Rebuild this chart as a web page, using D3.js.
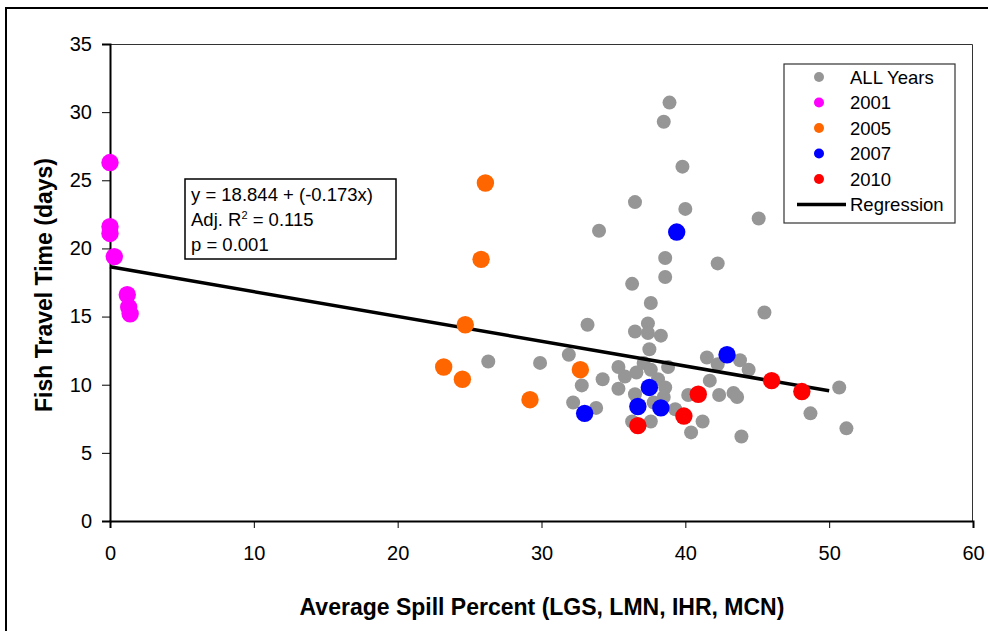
<!DOCTYPE html>
<html>
<head>
<meta charset="utf-8">
<script src="https://cdn.jsdelivr.net/npm/d3@7"></script>
<style>
	body { margin: 0; background: #fff; }
	text { font-family: Arial, "Liberation Sans", sans-serif; }
</style>
</head>
<body>
<div id="chart"></div>
<script>
// ALL Years (grey)
var allX = [38.9, 38.5, 39.8, 36.5, 40.0, 34.0, 45.1, 38.6, 42.25, 38.6, 36.3, 37.6, 45.5, 33.2,
	37.4, 36.5, 37.4, 38.3, 37.5, 31.9, 26.3, 29.9, 41.5, 42.25, 43.8, 44.4, 35.35, 35.8, 36.6,
	37.1, 37.6, 38.1, 38.8, 34.25, 32.8, 35.35, 36.5, 38.6, 38.5, 37.8, 39.3, 33.8, 32.2, 36.3,
	37.6, 40.2, 41.7, 42.35, 43.35, 43.6, 41.2, 40.4, 43.9, 48.7, 50.7, 51.2];
var allY = [30.7, 29.3, 26.0, 23.4, 22.9, 21.3, 22.2, 19.3, 18.9, 17.9, 17.4, 16.0, 15.3, 14.4,
	14.5, 13.9, 13.8, 13.6, 12.6, 12.2, 11.7, 11.6, 12.0, 11.5, 11.8, 11.1, 11.3, 10.6, 10.9,
	11.6, 11.1, 10.4, 11.3, 10.4, 9.95, 9.7, 9.3, 9.8, 9.1, 8.7, 8.2, 8.3, 8.7, 7.3,
	7.3, 9.25, 10.3, 9.25, 9.4, 9.1, 7.3, 6.5, 6.2, 7.9, 9.8, 6.8];

var x2001 = [0, 0, 0, 0.3, 1.2, 1.3, 1.4];
var y2001 = [26.3, 21.6, 21.1, 19.4, 16.6, 15.7, 15.2];

var x2005 = [26.1, 25.8, 24.7, 23.2, 24.5, 32.7, 29.2];
var y2005 = [24.8, 19.2, 14.4, 11.3, 10.4, 11.1, 8.9];

var x2007 = [39.4, 42.9, 37.5, 36.7, 38.3, 33.0];
var y2007 = [21.2, 12.2, 9.8, 8.4, 8.3, 7.9];

var x2010 = [36.7, 39.9, 40.9, 46.0, 48.1];
var y2010 = [7.0, 7.7, 9.3, 10.3, 9.5];

// regression line ends, as drawn
var regX = [0, 50];
var regY = [18.65, 9.55];

var xTicks = [0, 10, 20, 30, 40, 50, 60];
var yTicks = [0, 5, 10, 15, 20, 25, 30, 35];

var statLines = ["y = 18.844 + (-0.173x)", "Adj. R\u00B2 = 0.115", "p = 0.001"];
var legendNames = ["ALL Years", "2001", "2005", "2007", "2010", "Regression"];
var legendColors = ["#969696", "#ff00ff", "#ff6600", "#0000ff", "#ff0000", "#000"];

var svg = d3.select("#chart")
	.append("svg")
	.attr("width", 988)
	.attr("height", 631)
;

// outer frame (runs past the right and bottom edges)
svg.append("rect")
	.attr("x", 6).attr("y", 8)
	.attr("width", 1000).attr("height", 700)
	.attr("fill", "none")
	.attr("stroke", "#000")
	.attr("stroke-width", 2)
;

var margin = {top: 44, left: 110};
var width = 973 - margin.left;
var height = 521 - margin.top;

var x = d3.scaleLinear().domain([0, 60]).range([0, width]);
var y = d3.scaleLinear().domain([0, 35]).range([height, 0]);

var g = svg.append("g")
	.attr("transform", "translate(" + margin.left + "," + margin.top + ")");

// top / right border of the plot area
g.append("path")
	.attr("d", "M0,0.5H" + (width - 0.5) + "V" + height)
	.attr("fill", "none")
	.attr("stroke", "#333")
	.attr("stroke-width", 1)
;

var tickFont = (a) => a.selectAll("text")
	.attr("font-size", 20)
	.attr("fill", "#000")
	.attr("font-family", "Arial, 'Liberation Sans', sans-serif");

g.append("g")
	.attr("transform", "translate(0," + height + ")")
	.call(d3.axisBottom(x).tickValues(xTicks).tickSize(7).tickPadding(18))
	.call((a) => a.select(".domain").attr("stroke-width", 2))
	.call(tickFont)
;

g.append("g")
	.call(d3.axisLeft(y).tickValues(yTicks).tickSize(8).tickPadding(10))
	.call((a) => a.select(".domain").attr("stroke-width", 2))
	.call(tickFont)
;

// axis titles
svg.append("text")
	.attr("x", 542).attr("y", 615)
	.attr("text-anchor", "middle")
	.attr("font-size", 23)
	.attr("font-weight", "bold")
	.text("Average Spill Percent (LGS, LMN, IHR, MCN)")
;

svg.append("text")
	.attr("transform", "translate(52,285)rotate(-90)")
	.attr("text-anchor", "middle")
	.attr("font-size", 23)
	.attr("font-weight", "bold")
	.text("Fish Travel Time (days)")
;

function dots(xs, ys, color, r) {
	g.append("g").selectAll("circle")
		.data(xs)
		.enter().append("circle")
		.attr("cx", (d) => x(d))
		.attr("cy", (d, i) => y(ys[i]))
		.attr("r", r)
		.attr("fill", color)
	;
}

dots(allX, allY, legendColors[0], 7);
dots(x2001, y2001, legendColors[1], 8.7);

// regression
g.append("line")
	.attr("x1", x(regX[0])).attr("y1", y(regY[0]))
	.attr("x2", x(regX[1])).attr("y2", y(regY[1]))
	.attr("stroke", "#000")
	.attr("stroke-width", 3.5)
;

dots(x2005, y2005, legendColors[2], 8.7);
dots(x2007, y2007, legendColors[3], 8.7);
dots(x2010, y2010, legendColors[4], 8.7);

// stats box
svg.append("rect")
	.attr("x", 185).attr("y", 179)
	.attr("width", 211).attr("height", 80)
	.attr("fill", "#fff")
	.attr("stroke", "#000")
	.attr("stroke-width", 1.5)
;
svg.append("g").selectAll("text")
	.data(statLines)
	.enter().append("text")
	.attr("x", 191)
	.attr("y", (d, i) => 201 + i * 25)
	.attr("font-size", 18.5)
	.html((d, i) => i == 1 ? "Adj. R<tspan dy='-7' font-size='11'>2</tspan><tspan dy='7'> = 0.115</tspan>" : d)
;

// legend
svg.append("rect")
	.attr("x", 784).attr("y", 64)
	.attr("width", 171).attr("height", 159)
	.attr("fill", "#fff")
	.attr("stroke", "#333")
	.attr("stroke-width", 1.2)
;
var leg = svg.append("g").selectAll("g")
	.data(legendNames)
	.enter().append("g")
	.attr("transform", (d, i) => "translate(0," + (77 + i * 25.5) + ")")
;
leg.filter((d, i) => i < 5).append("circle")
	.attr("cx", 819).attr("cy", 0).attr("r", 5)
	.attr("fill", (d, i) => legendColors[i])
;
leg.filter((d, i) => i == 5).append("line")
	.attr("x1", 797).attr("x2", 846)
	.attr("stroke", "#000").attr("stroke-width", 3.5)
;
leg.append("text")
	.attr("x", 850).attr("y", 6.5)
	.attr("font-size", 18.5)
	.text((d) => d)
;
</script>
</body>
</html>
